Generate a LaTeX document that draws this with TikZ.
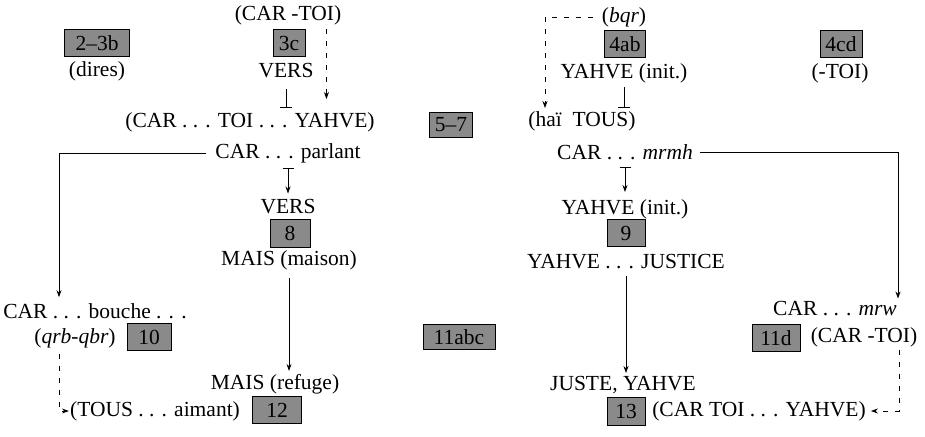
\documentclass[tikz,border=0pt]{standalone}
\usepackage{fontspec}
\setmainfont{Liberation Serif}
\usetikzlibrary{arrows.meta,calc}

\definecolor{boxgray}{HTML}{8A8A8A}

\tikzset{
  txt/.style={inner sep=1pt, font=\fontsize{21.5}{26}\selectfont},
  vbox/.style={txt, draw=black, fill=boxgray, line width=0.8pt,
    minimum height=27pt, inner xsep=5pt},
  link/.style={line width=0.8pt, -{Stealth[length=7pt,width=5pt]}},
  dlink/.style={link, dash pattern=on 5pt off 7pt},
  tlink/.style={line width=0.8pt, {Bar[width=11pt]}-{Stealth[length=7pt,width=5pt]}},
  blink/.style={line width=0.8pt, -{Bar[width=12pt]}},
}

\begin{document}
\begin{tikzpicture}[x=1pt,y=-1pt]
  \useasboundingbox (0,0) rectangle (925,436);
  % top rows
  \node[txt] (carToiA) at (288,15) {(CAR -TOI)};
  \node[txt] (bqr) at (624,17) {(\textit{bqr})};
  \node[vbox,minimum width=65pt] (b23) at (97,43) {2--3b};
  \node[vbox,minimum width=32pt] (b3c) at (289,43) {3c};
  \node[vbox,minimum width=40pt] (b4ab) at (625,44) {4ab};
  \node[vbox,minimum width=42pt] (b4cd) at (841,44) {4cd};
  \node[txt] (dires) at (97,71) {(dires)};
  \node[txt] (versA) at (286,71) {VERS};
  \node[txt] (yahveA) at (624,73) {YAHVE (init.)};
  \node[txt] (toiA) at (840,73) {(-TOI)};
  \node[txt] (carYahve) at (250,122) {(CAR . . . TOI . . . YAHVE)};
  \node[vbox,minimum width=37pt,minimum height=25pt] (b57) at (451,125) {5--7};
  \node[txt] (haiTous) at (582,121) {(haï\ \ TOUS)};
  % middle
  \node[txt] (parlant) at (288,153) {CAR . . . parlant};
  \node[txt] (mrmh) at (625,152) {CAR . . . \textit{mrmh}};
  \node[txt] (versB) at (288,207) {VERS};
  \node[txt] (yahveB) at (625,209) {YAHVE (init.)};
  \node[vbox,minimum width=40pt,minimum height=28pt] (b8) at (290,233) {8};
  \node[vbox,minimum width=38pt] (b9) at (626,233) {9};
  \node[txt] (maison) at (289,260) {MAIS (maison)};
  \node[txt] (justice) at (626,262) {YAHVE . . . JUSTICE};
  % bottom
  \node[txt] (bouche) at (95,311) {CAR . . . bouche . . .};
  \node[txt] (mrw) at (835,309) {CAR . . . \textit{mrw}};
  \node[txt] (qrb) at (75,338) {(\textit{qrb-qbr})};
  \node[vbox,minimum width=44pt] (b10) at (149,337) {10};
  \node[vbox,minimum width=72pt,minimum height=25pt] (b11abc) at (459,337) {11abc};
  \node[vbox,minimum width=48pt] (b11d) at (776,338) {11d};
  \node[txt] (carToiB) at (864,337) {(CAR -TOI)};
  \node[txt] (refuge) at (275,384) {MAIS (refuge)};
  \node[txt] (juste) at (623,385) {JUSTE, YAHVE};
  \node[txt] (tous) at (155,411) {(TOUS . . . aimant)};
  \node[vbox,minimum width=49pt] (b12) at (277,410) {12};
  \node[vbox,minimum width=38pt,minimum height=28pt] (b13) at (626,411) {13};
  \node[txt] (carToiYahve) at (759,411) {(CAR TOI . . . YAHVE)};

  % connectors
  \draw[blink,shorten <=10pt,shorten >=3pt] (versA.south) -- (versA.south |- carYahve.north);
  \draw[dlink,shorten <=3pt,shorten >=12pt] ([xshift=-16pt]carToiA.south east) -- ([xshift=-16pt]carToiA.south east |- carYahve.north);
  \draw[blink,shorten <=3pt,shorten >=2pt] (yahveA.south) -- (yahveA.south |- haiTous.north);
  \draw[dlink,shorten <=8pt,shorten >=2pt] (bqr.west) -| ([xshift=-37pt]haiTous.north);
  \draw[tlink,shorten <=4pt,shorten >=5pt] (parlant.south) -- (versB.north);
  \draw[tlink,shorten <=6pt,shorten >=6pt] (mrmh.south) -- (yahveB.north);
  \draw[link,shorten <=8pt,shorten >=5pt] (parlant.west) -| ([xshift=-36pt]bouche.north);
  \draw[link,shorten <=6pt,shorten >=2pt] (mrmh.east) -| ([xshift=63pt]mrw.north);
  \draw[link,shorten <=7pt,shorten >=2pt] (maison.south) -- (maison.south |- refuge.north);
  \draw[link,shorten <=6pt,shorten >=2pt] (justice.south) -- (justice.south |- juste.north);
  \draw[dlink,shorten <=5pt] ([xshift=-16pt]qrb.south) |- (tous.west);
  \draw[dlink,shorten <=2pt,shorten >=4pt] ([xshift=35pt]carToiB.south) |- (carToiYahve.east);
\end{tikzpicture}
\end{document}
